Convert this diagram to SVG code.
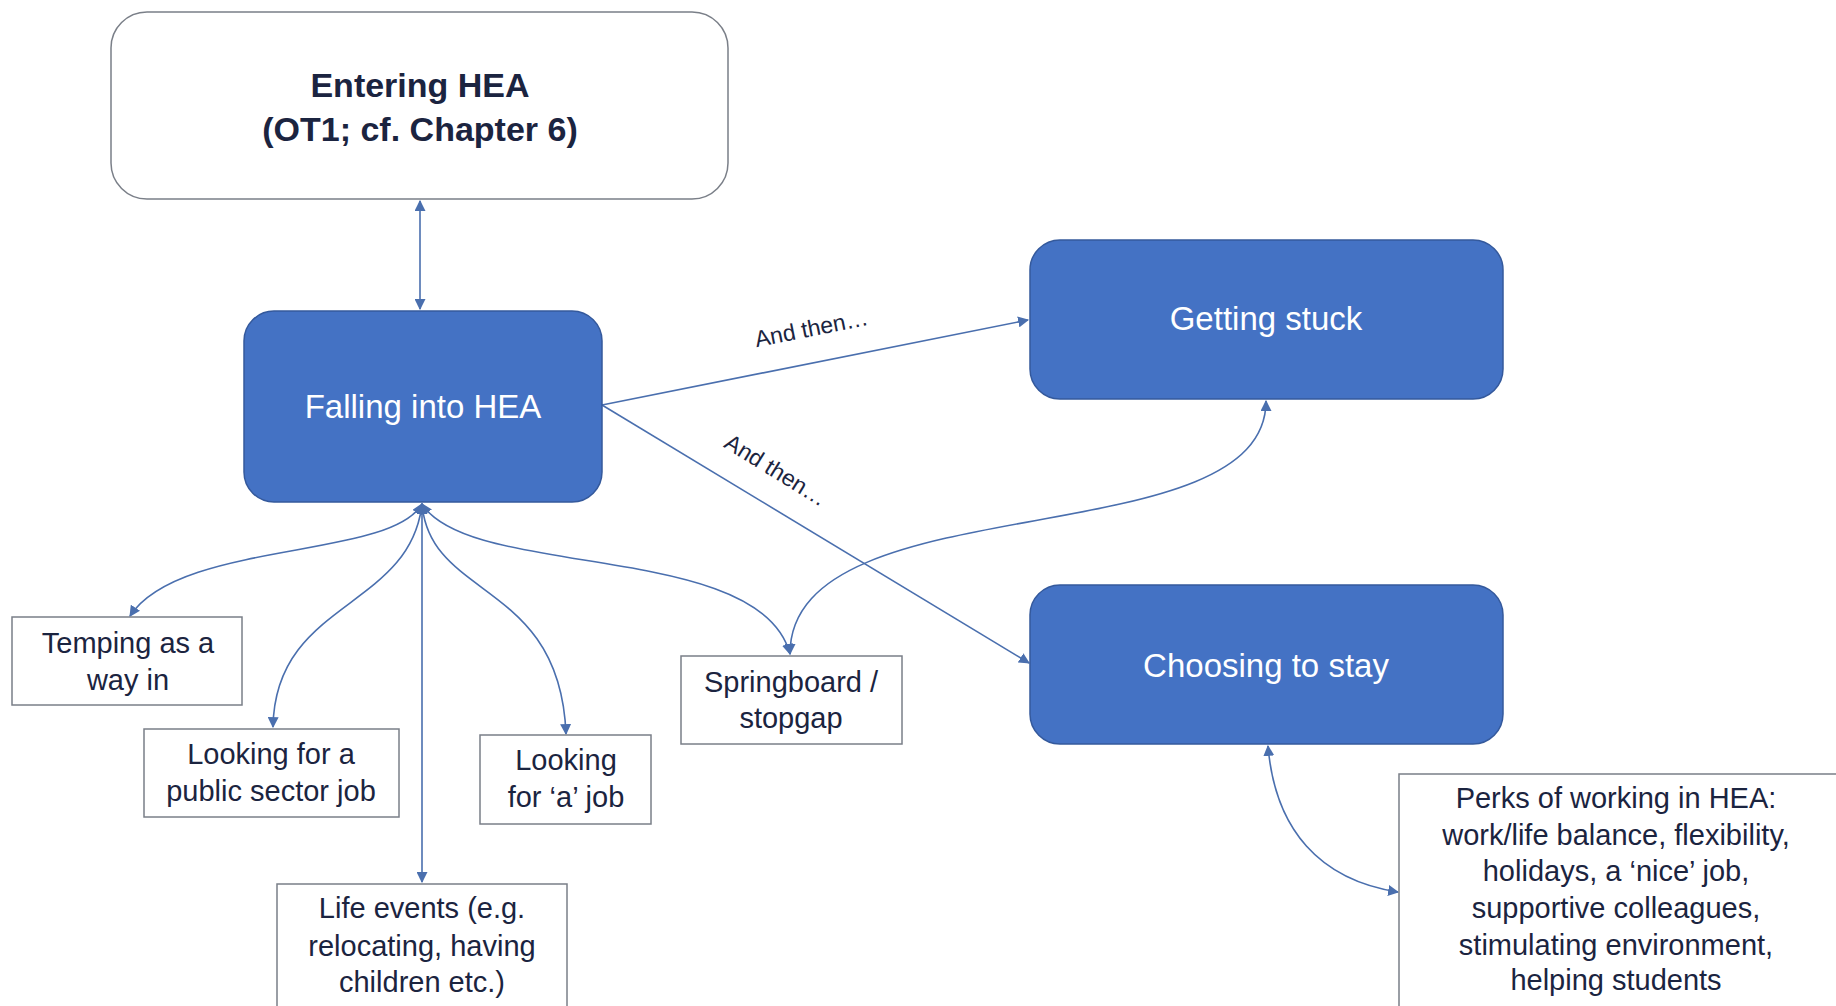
<svg xmlns="http://www.w3.org/2000/svg" width="1836" height="1006" viewBox="0 0 1836 1006">
<defs>
<style>
.blue{fill:#4472C4;stroke:#34599c;stroke-width:1.5}
.white{fill:#ffffff;stroke:#7a7f88;stroke-width:1.5}
.wt{font-family:"Liberation Sans",Arial,sans-serif;font-size:33px;fill:#ffffff;text-anchor:middle}
.dt{font-family:"Liberation Sans",Arial,sans-serif;font-size:29px;fill:#1b2440;text-anchor:middle}
.title{font-family:"Liberation Sans",Arial,sans-serif;font-size:34px;font-weight:bold;fill:#1b2440;text-anchor:middle}
.lbl{font-family:"Liberation Sans",Arial,sans-serif;font-size:23px;fill:#1b2440;text-anchor:middle}
.conn{fill:none;stroke:#4a6fae;stroke-width:1.6}
</style>
<marker id="ah" viewBox="0 0 10 10" refX="9" refY="5" markerWidth="11" markerHeight="11" markerUnits="userSpaceOnUse" orient="auto-start-reverse">
<path d="M0,0 L10,5 L0,10 z" fill="#4a6fae"/>
</marker>
</defs>

<g id="connectors">
<path class="conn" d="M420 201 L420 309" marker-start="url(#ah)" marker-end="url(#ah)"/>
<path class="conn" d="M602 405 L1028 320" marker-end="url(#ah)"/>
<path class="conn" d="M602 405 L1029 663" marker-end="url(#ah)"/>
<path class="conn" d="M422 504 C390 560 180 540 130 616" marker-start="url(#ah)" marker-end="url(#ah)"/>
<path class="conn" d="M422 504 C410 610 275 600 273 727" marker-start="url(#ah)" marker-end="url(#ah)"/>
<path class="conn" d="M422 504 L422 882" marker-start="url(#ah)" marker-end="url(#ah)"/>
<path class="conn" d="M422 504 C430 600 560 580 566 734" marker-start="url(#ah)" marker-end="url(#ah)"/>
<path class="conn" d="M422 504 C470 580 760 540 790 654" marker-start="url(#ah)" marker-end="url(#ah)"/>
<path class="conn" d="M1266 401 C1266 560 790 480 790 654" marker-start="url(#ah)" marker-end="url(#ah)"/>
<path class="conn" d="M1268 746 C1275 830 1320 880 1398 892" marker-start="url(#ah)" marker-end="url(#ah)"/>
<text class="lbl" transform="translate(813,336) rotate(-11.3)">And then…</text>
<text class="lbl" transform="translate(776,470) rotate(31.7)" dy="8">And then…</text>
</g>

<g id="entering">
<rect class="white" x="111" y="12" width="617" height="187" rx="36"/>
<text class="title" x="420" y="97">Entering HEA</text>
<text class="title" x="420" y="141">(OT1; cf. Chapter 6)</text>
</g>

<g id="falling">
<rect class="blue" x="244" y="311" width="358" height="191" rx="30"/>
<text class="wt" x="423" y="418">Falling into HEA</text>
</g>

<g id="stuck">
<rect class="blue" x="1030" y="240" width="473" height="159" rx="30"/>
<text class="wt" x="1266" y="330">Getting stuck</text>
</g>

<g id="choosing">
<rect class="blue" x="1030" y="585" width="473" height="159" rx="30"/>
<text class="wt" x="1266" y="677">Choosing to stay</text>
</g>

<g id="temping">
<rect class="white" x="12" y="617" width="230" height="88"/>
<text class="dt" x="128" y="653">Temping as a</text>
<text class="dt" x="128" y="690">way in</text>
</g>

<g id="public">
<rect class="white" x="144" y="729" width="255" height="88"/>
<text class="dt" x="271" y="764">Looking for a</text>
<text class="dt" x="271" y="801">public sector job</text>
</g>

<g id="ajob">
<rect class="white" x="480" y="735" width="171" height="89"/>
<text class="dt" x="566" y="770">Looking</text>
<text class="dt" x="566" y="807">for ‘a’ job</text>
</g>

<g id="springboard">
<rect class="white" x="681" y="656" width="221" height="88"/>
<text class="dt" x="791" y="692">Springboard /</text>
<text class="dt" x="791" y="728">stopgap</text>
</g>

<g id="life">
<rect class="white" x="277" y="884" width="290" height="130"/>
<text class="dt" x="422" y="918">Life events (e.g.</text>
<text class="dt" x="422" y="956">relocating, having</text>
<text class="dt" x="422" y="992">children etc.)</text>
</g>

<g id="perks">
<rect class="white" x="1399" y="774" width="445" height="240"/>
<text class="dt" x="1616" y="808">Perks of working in HEA:</text>
<text class="dt" x="1616" y="845">work/life balance, flexibility,</text>
<text class="dt" x="1616" y="881">holidays, a ‘nice’ job,</text>
<text class="dt" x="1616" y="918">supportive colleagues,</text>
<text class="dt" x="1616" y="955">stimulating environment,</text>
<text class="dt" x="1616" y="990">helping students</text>
</g>
</svg>
